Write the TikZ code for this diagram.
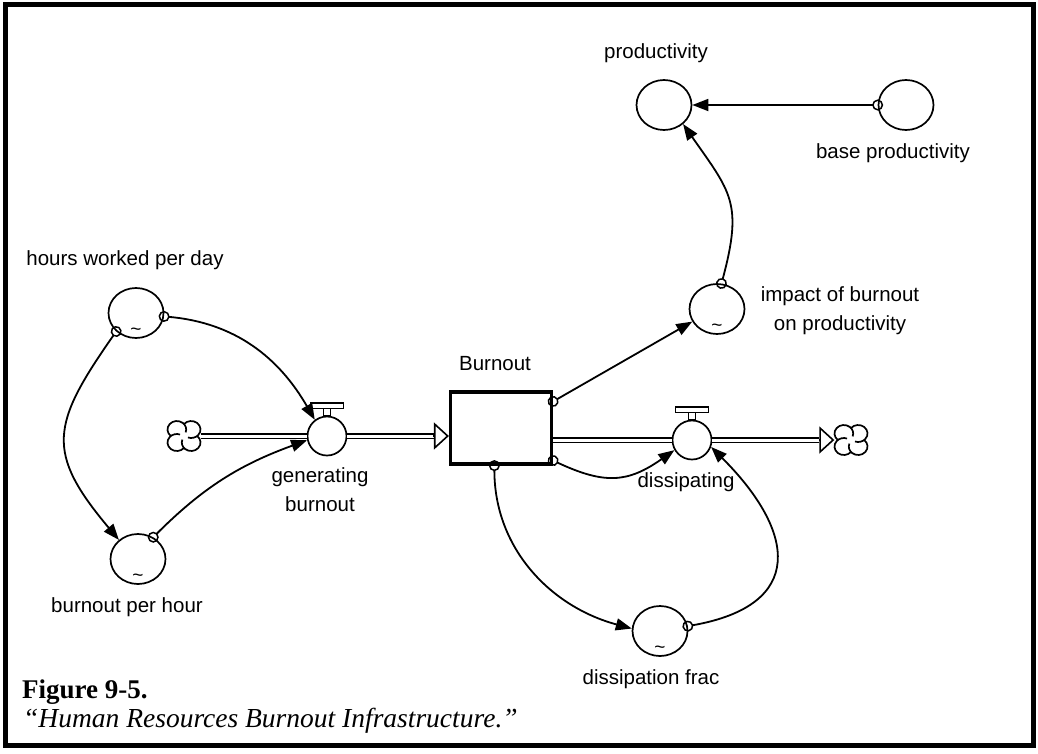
\documentclass[tikz,border=0pt]{standalone}
\usepackage{fontspec}
\setmainfont{Liberation Serif}
\setsansfont{Liberation Sans}
\usetikzlibrary{shapes.geometric,arrows.meta,positioning}

\begin{document}
\begin{tikzpicture}[
    x=1pt, y=-1pt,
    auxnode/.style={draw, ellipse, line width=1.7pt, minimum width=55pt, minimum height=50pt, inner sep=0pt},
    valvenode/.style={draw, circle, line width=1.7pt, minimum size=39pt, inner sep=0pt, fill=white},
    stocknode/.style={draw, rectangle, line width=3.2pt, minimum width=101pt, minimum height=72pt, inner sep=0pt},
    cloudnode/.style={minimum width=33pt, minimum height=30pt, inner sep=0pt},
    labelnode/.style={font=\sffamily\fontsize{20.5}{29}\selectfont, align=center, inner sep=0pt},
    tildenode/.style={font=\sffamily\fontsize{19}{19}\selectfont, inner sep=0pt},
    linkline/.style={line width=1.8pt, shorten <=-5.5pt, {Circle[open,length=11pt,line width=1.5pt]}-{Triangle[length=16pt,width=12pt]}},
    pipeline/.style={double, double distance=3pt, line width=1.6pt},
    pipetip/.style={line width=1.6pt, -{Triangle[open,length=15pt,width=27pt]}},
    valvetop/.style={line width=1.5pt, fill=white},
    cloudpic/.pic={
        \foreach \r in {0,90,180,270}
            \draw[y=1pt, xscale=1.1, rotate=\r, line width=1.7pt] (6.5,6.5) ++(140:8.5pt) arc[start angle=140, end angle=-110, radius=8.5pt];
    }
]
% Frame
\useasboundingbox (0,0) rectangle (1038,753);
\draw[line width=5.5pt] (5.5,4.5) rectangle (1033.5,745.5);
% Stock, valves and clouds
\node[stocknode] (burnout) at (501,428) {};
\node[valvenode] (gen) at (327,436) {};
\node[valvenode] (diss) at (692,440) {};
\node[cloudnode] (srcL) at (184,436) {};
\node[cloudnode] (sinkR) at (851,440) {};
\pic at (srcL) {cloudpic};
\pic at (sinkR) {cloudpic};
% Pipes
\coordinate (inA) at (gen -| burnout.west);
\coordinate (outA) at (diss -| burnout.east);
\draw[pipeline] (srcL.east) -- (gen.west);
\draw[pipeline] (gen.east) -- ([xshift=-15pt]inA);
\draw[pipetip] ([xshift=-15.5pt]inA) -- (inA);
\draw[pipeline] (outA) -- (diss.west);
\draw[pipeline] (diss.east) -- ([xshift=-15pt]sinkR.west);
\draw[pipetip] ([xshift=-15.5pt]sinkR.west) -- (sinkR.west);
% Valve handles
\foreach \v in {gen, diss} {
    \draw[valvetop] ([xshift=-3.5pt]\v.north) rectangle ++(7,-7);
    \draw[valvetop] ([xshift=-16.5pt,yshift=7pt]\v.north) rectangle ++(33,-5.5);
}
% Auxiliaries
\node[auxnode] (hours) at (136,313) {};
\node[auxnode] (bph) at (138,559) {};
\node[auxnode] (impact) at (717,309) {};
\node[auxnode] (prod) at (664,105) {};
\node[auxnode] (base) at (906,105) {};
\node[auxnode] (dfrac) at (660,631) {};
\foreach \a in {hours, bph, impact, dfrac}
    \node[tildenode] (\a-tilde) at ([yshift=-19pt]\a.center) {\textasciitilde};
% Labels
\node[labelnode] (hours-lbl) at (125,260) {hours worked per day};
\node[labelnode] (bph-lbl) at (127,607) {burnout per hour};
\node[labelnode] (gen-lbl) at (320,490) {generating\\burnout};
\node[labelnode] (burnout-lbl) at (495,364) {Burnout};
\node[labelnode] (diss-lbl) at (686,482) {dissipating};
\node[labelnode] (dfrac-lbl) at (651,679) {dissipation frac};
\node[labelnode] (impact-lbl) at (840,311) {impact of burnout\\on productivity};
\node[labelnode] (prod-lbl) at (656,53) {productivity};
\node[labelnode] (base-lbl) at (893,153) {base productivity};
% Links
\draw[linkline] (hours.223) to[out=235, in=130, looseness=1.4] (bph.135);
\draw[linkline] (hours.353) to[out=-5, in=120] (gen.127);
\draw[linkline] (bph.55) to[out=45, in=200] (gen.192);
\draw[linkline] (burnout.27) -- (impact.207);
\draw[linkline] (burnout.-32) to[out=-25, in=215, looseness=1.2] (diss.210);
\draw[linkline] (burnout.260) to[out=-90, in=165] (dfrac.175);
\draw[linkline] (dfrac.10) to[out=10, in=-45, looseness=1.7] (diss.-20);
\draw[linkline] (impact.80) to[out=75, in=-55, looseness=1.3] (prod.-45);
\draw[linkline] (base.west) -- (prod.east);
% Caption
\node[font=\bfseries\fontsize{27}{30}\selectfont, anchor=base west, inner sep=0pt] (fig-num) at (22,698) {Figure 9-5.};
\node[font=\itshape\fontsize{27.5}{30}\selectfont, anchor=base west, inner sep=0pt] (fig-title) at (23,727) {“Human Resources Burnout Infrastructure.”};
\end{tikzpicture}
\end{document}
